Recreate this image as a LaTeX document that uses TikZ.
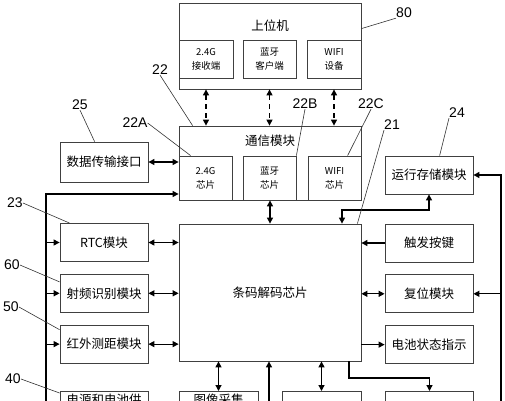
\documentclass[tikz,border=0pt]{standalone}
\usepackage{fontspec}
\setmainfont{Liberation Sans}
\newfontfamily\cjk{Noto Sans CJK SC}
\usetikzlibrary{arrows.meta, positioning, calc}

\begin{document}
\begin{tikzpicture}[
	x=1pt, y=-1pt,
	node distance=12pt,
	box/.style={draw=black!75, line width=0.8pt, align=center, inner sep=0pt, minimum width=88pt, minimum height=38pt, font=\cjk\fontsize{12.5}{15}\selectfont},
	chipbox/.style={box, minimum width=53pt, minimum height=44pt, font=\cjk\fontsize{9.5}{14}\selectfont},
	cutbox/.style={box, anchor=north, minimum height=0pt, inner ysep=3pt, text height=10pt, text depth=30pt},
	title/.style={inner sep=0pt, font=\cjk\fontsize{12.5}{15}\selectfont},
	num/.style={inner sep=0pt, font=\fontsize{14}{16}\selectfont},
	lead/.style={draw=black!80, line width=0.6pt},
	arrow/.style={-{Triangle[length=6pt,width=6pt]}, line width=1.2pt},
	biarrow/.style={{Triangle[length=6pt,width=6pt]}-{Triangle[length=6pt,width=6pt]}, line width=1.2pt},
	dasharrow/.style={biarrow, dash pattern=on 5pt off 4pt}
]
\useasboundingbox (0,0) rectangle (505,400);
\clip (0,0) rectangle (505,400);

% upper computer
\node[box, minimum width=182pt, minimum height=86pt] (host) at (270,46) {};
\node[title] (hostname) at (270,26) {上位机};
\node[chipbox, minimum width=54pt, minimum height=38pt] (recv) at (206,59) {2.4G\\接收端};
\node[chipbox, minimum height=38pt] (btclient) at (269.5,59) {蓝牙\\客户端};
\node[chipbox, minimum width=54pt, minimum height=38pt] (wifidev) at (334,59) {WIFI\\设备};

% communication module
\node[box, minimum width=182pt, minimum height=74pt] (comm) at (270,163) {};
\node[title] (commname) at (270,141) {通信模块};
\node[chipbox] (chip24) at (205.5,178) {2.4G\\芯片};
\node[chipbox] (btchip) at (269.5,178) {蓝牙\\芯片};
\node[chipbox] (wifichip) at (334.5,178) {WIFI\\芯片};

% decoder chip
\node[box, minimum width=182pt, minimum height=137pt] (decoder) at (270,292.5) {条码解码芯片};

% left column
\node[box, minimum height=40pt] (dataif) at (104,162) {数据传输接口};
\node[box] (rtc) at (104,242.5) {RTC模块};
\node[box, below=of rtc] (rfid) {射频识别模块};
\node[box, below=of rfid] (ir) {红外测距模块};
\node[cutbox] (power) at (104,391) {电源和电池供};

% right column
\node[box] (mem) at (429,175) {运行存储模块};
\node[box] (trig) at (429,243) {触发按键};
\node[box, below=of trig] (reset) {复位模块};
\node[box, below=of reset] (batt) {电池状态指示};

% bottom row
\node[cutbox, minimum width=79pt] (camera) at (218.5,391) {图像采集};
\node[cutbox, minimum width=79pt] (lowmid) at (321.5,391) {};
\node[cutbox] (lowright) at (429.5,391) {};

\coordinate (busL) at (46,194);
\coordinate (busLend) at (46,405);
\coordinate (busR) at (501,175);
\coordinate (busRend) at (501,405);
\coordinate (memlink) at (342,210);
\coordinate (lowlink) at (349,378);
\coordinate (pwrin) at (269,405);

% connectors
\draw[dasharrow] (host.south -| recv) -- (comm.north -| recv);
\draw[dasharrow] (host.south -| btclient) -- (comm.north -| btclient);
\draw[dasharrow] (host.south -| wifidev) -- (comm.north -| wifidev);
\draw[biarrow] (comm.south) -- (decoder.north);
\draw[biarrow] (dataif.east) -- (dataif.east -| comm.west);
\draw[arrow] (busLend) -- (busL) -- (busL -| comm.west);
\foreach \m in {rtc, rfid, ir} {
	\draw[arrow] (\m.west -| busL) -- (\m.west);
	\draw[biarrow] (\m.east) -- (\m.east -| decoder.west);
}
\draw[arrow] (trig.west) -- (trig.west -| decoder.east);
\draw[biarrow] (reset.west) -- (reset.west -| decoder.east);
\draw[arrow] (batt.west -| decoder.east) -- (batt.west);
\draw[arrow] (busRend) -- (busR) -- (mem.east);
\draw[arrow] (reset.east -| busR) -- (reset.east);
\draw[biarrow] (decoder.north -| memlink) -- (memlink) -| (mem.south);
\draw[biarrow] (decoder.south -| camera) -- (camera.north);
\draw[arrow] (pwrin) -- (pwrin |- decoder.south);
\draw[biarrow] (decoder.south -| lowmid) -- (lowmid.north);
\draw[arrow] (decoder.south -| lowlink) -- (lowlink) -| (lowright.north);

% reference numbers
\node[num] (n80) at (404,13) {80};
\node[num] (n22) at (160,70) {22};
\node[num] (n22A) at (135,123) {22A};
\node[num] (n22B) at (305,104) {22B};
\node[num] (n22C) at (371,104) {22C};
\node[num] (n21) at (392,125) {21};
\node[num] (n24) at (457,113) {24};
\node[num] (n25) at (80,105) {25};
\node[num] (n23) at (15,203) {23};
\node[num] (n60) at (12,265) {60};
\node[num] (n50) at (11,307) {50};
\node[num] (n40) at (13,379) {40};

\draw[lead] (n80.south west) -- ($(host.north east)+(0,26)$);
\draw[lead] (n22.south) -- ($(comm.north west)+(14,0)$);
\draw[lead] (n22A.east) -- ($(chip24.north west)+(12,0)$);
\draw[lead] (n22B.south) -- (btchip.north east);
\draw[lead] (n22C.south) -- ($(wifichip.north west)+(40,0)$);
\draw[lead] (n21.south west) -- ($(decoder.north east)+(-4,0)$);
\draw[lead] (n24.south west) -- ($(mem.north west)+(55,0)$);
\draw[lead] (n25.south) -- ($(dataif.north west)+(35,0)$);
\draw[lead] (n23.east) -- ($(rtc.north west)+(10,0)$);
\draw[lead] (n60.east) -- ($(rfid.north west)+(0,8)$);
\draw[lead] (n50.east) -- ($(ir.north west)+(0,5)$);
\draw[lead] (n40.east) -- ($(power.north west)+(0,2)$);
\end{tikzpicture}
\end{document}
